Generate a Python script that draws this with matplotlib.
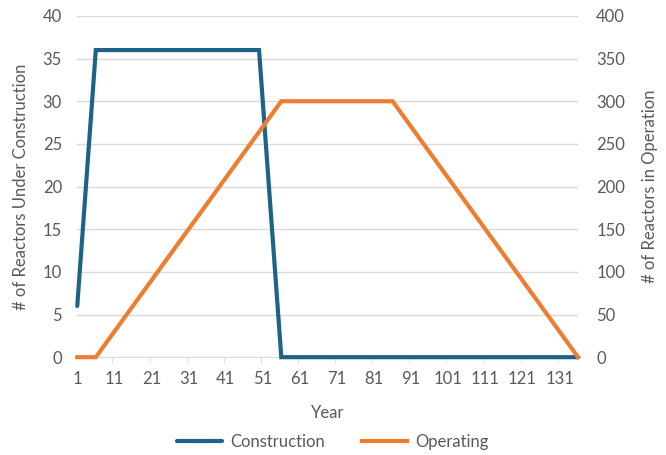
import matplotlib
matplotlib.use("Agg")
import matplotlib.pyplot as plt
from matplotlib.ticker import FixedLocator

plt.rcParams['font.family'] = ['Lato', 'DejaVu Sans']

# breakpoints of the two series (year, value)
constr_years = [1, 6, 50, 56, 136]
constr_vals = [6, 36, 36, 0, 0]
oper_years = [1, 6, 56, 86, 136]
oper_vals = [0, 0, 300, 300, 0]
xtick_labels = [1, 11, 21, 31, 41, 51, 61, 71, 81, 91, 101, 111, 121, 131]

blue = '#1f6288'
orange = '#ed7d31'
grey = '#595959'
grid = '#d9d9d9'

fig = plt.figure(figsize=(6.66, 4.55), dpi=100)
ax = fig.add_axes([0.116, 0.215, 0.752, 0.750])
ax2 = ax.twinx()

l1, = ax.plot(constr_years, constr_vals, color=blue, lw=3, solid_joinstyle='miter',
              solid_capstyle='round', clip_on=False, label='Construction', zorder=3)
l2, = ax2.plot(oper_years, oper_vals, color=orange, lw=3, solid_joinstyle='miter',
               clip_on=False, label='Operating', zorder=3)

ax.set_xlim(1, 136)
ax.set_ylim(0, 40)
ax2.set_ylim(0, 400)
ax.set_yticks(range(0, 41, 5))
ax2.set_yticks(range(0, 401, 50))
ax.set_xticks(xtick_labels)
ax.xaxis.set_minor_locator(FixedLocator([x - 0.5 for x in xtick_labels[1:]]))
ax.grid(axis='y', color=grid, lw=1)
ax.set_axisbelow(True)

for a in (ax, ax2):
    for s in a.spines.values():
        s.set_visible(False)
    a.tick_params(colors=grey, labelsize=12, length=0)
ax.spines['bottom'].set_visible(True)
ax.spines['bottom'].set_color(grid)
ax.tick_params(axis='x', which='minor', length=4, color=grid)
ax.tick_params(axis='x', pad=10)
ax.tick_params(axis='y', pad=11)
ax2.tick_params(axis='y', pad=13)

ax.set_xlabel('Year', color=grey, fontsize=12, labelpad=13)
ax.set_ylabel('# of Reactors Under Construction', color=grey, fontsize=12, labelpad=10)
ax2.set_ylabel('# of Reactors in Operation', color=grey, fontsize=12, labelpad=12)

fig.legend([l1, l2], ['Construction', 'Operating'], loc='center', bbox_to_anchor=(0.5, 0.028),
           ncol=2, frameon=False, fontsize=12, labelcolor=grey, handlelength=2.7,
           handletextpad=0.5, columnspacing=2.2)

fig.savefig('out.png', dpi=100)
